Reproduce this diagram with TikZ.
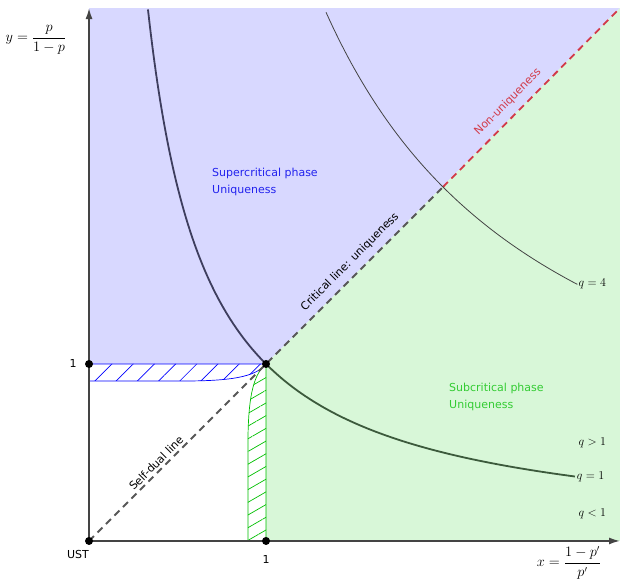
\documentclass[tikz,border=0pt]{standalone}
\usepackage{fontspec}
\setmainfont{DejaVu Sans}
\usepackage{amsmath}
\usetikzlibrary{arrows.meta,patterns.meta}

\definecolor{superfill}{HTML}{D8D8FF}
\definecolor{subfill}{HTML}{D8F7D8}
\definecolor{supertext}{HTML}{2222EE}
\definecolor{subtext}{HTML}{33CC33}
\definecolor{nonuniq}{HTML}{D23A48}
\definecolor{axisgray}{HTML}{444444}
\definecolor{curvesuper}{HTML}{3E3E5E}
\definecolor{curvesub}{HTML}{3C5A3C}

\begin{document}
\begin{tikzpicture}[x=177pt,y=177pt,>={Latex[length=11pt,width=7pt]},
  txt/.style={font=\fontsize{11}{17}\selectfont},
  mth/.style={font=\fontsize{12.5}{15}\selectfont},
  axlab/.style={font=\fontsize{13.5}{16}\selectfont},
  diag/.style={line width=1.8pt,dash pattern=on 7pt off 5pt}]
  \useasboundingbox (-0.503,-0.2316) rectangle (3.0,3.0565);
  % points
  \coordinate (O) at (0,0);
  \coordinate (A) at (1,0);
  \coordinate (B) at (0,1);
  \coordinate (C) at (1,1);
  \coordinate (D) at (2,2);
  \coordinate (E) at (3,3.011);
  % phase regions
  \fill[superfill] (B) -- (C) -- (E) -- (0,3.011) -- cycle;
  \fill[subfill] (A) -- (3,0) -- (E) -- (C) -- cycle;
  % hatched strips
  \draw[blue,line width=0.7pt,pattern={Lines[angle=45,distance=15pt,line width=0.7pt]},pattern color=blue]
    (B) -- (C) .. controls (0.95,0.94) and (0.85,0.904) .. (0.55,0.904) -- (0,0.904) -- cycle;
  \draw[green!75!black,line width=0.7pt,pattern={Lines[angle=30,distance=11pt,line width=0.7pt]},pattern color=green!75!black]
    (A) -- (C) .. controls (0.94,0.95) and (0.898,0.85) .. (0.898,0.55) -- (0.898,0) -- cycle;
  % self-dual line
  \draw[diag,color=axisgray!90] (O) -- (D);
  \draw[diag,color=nonuniq] (D) -- (E);
  % q-curves
  \draw[curvesuper,line width=1.8pt,domain=0.333:1,samples=60] plot (\x,{1/\x});
  \draw[curvesub,line width=1.8pt,domain=1:2.746,samples=80] plot (\x,{1/\x});
  \draw[axisgray,line width=0.8pt,domain=1.339:2.76,samples=80] plot (\x,{4/\x});
  % axes
  \draw[axisgray,line width=1.6pt,->] (O) -- (0,3.011);
  \draw[axisgray,line width=1.6pt,->] (O) -- (3,0);
  \foreach \p in {O,A,B,C}
    \fill[black] (\p) circle (4pt);
  % labels
  \node[axlab] (ylab) at (-0.3,2.83) {$y=\dfrac{p}{1-p}$};
  \node[axlab] (xlab) at (2.712,-0.124) {$x=\dfrac{1-p'}{p'}$};
  \node[txt] (one-y) at (-0.09,1) {1};
  \node[txt] (one-x) at (1,-0.107) {1};
  \node[txt] (ust) at (-0.062,-0.079) {UST};
  \node[mth,anchor=west,inner sep=1pt] (q4) at (2.76,1.455) {$q=4$};
  \node[mth,anchor=west,inner sep=1pt] (qgt) at (2.76,0.554) {$q>1$};
  \node[mth,anchor=west,inner sep=1pt] (q1) at (2.75,0.364) {$q=1$};
  \node[mth,anchor=west,inner sep=1pt] (qlt) at (2.76,0.153) {$q<1$};
  \node[txt,supertext,align=left,anchor=west,inner sep=0pt] (super) at (0.695,2.03)
    {Supercritical phase\\Uniqueness};
  \node[txt,subtext,align=left,anchor=west,inner sep=0pt] (sub) at (2.034,0.814)
    {Subcritical phase\\Uniqueness};
  \node[txt,rotate=45] (critlab) at (1.475,1.576) {Critical line: uniqueness};
  \node[txt,rotate=45] (duallab) at (0.379,0.441) {Self-dual line};
  \node[txt,rotate=45,nonuniq] (nonlab) at (2.367,2.48) {Non-uniqueness};
\end{tikzpicture}
\end{document}
